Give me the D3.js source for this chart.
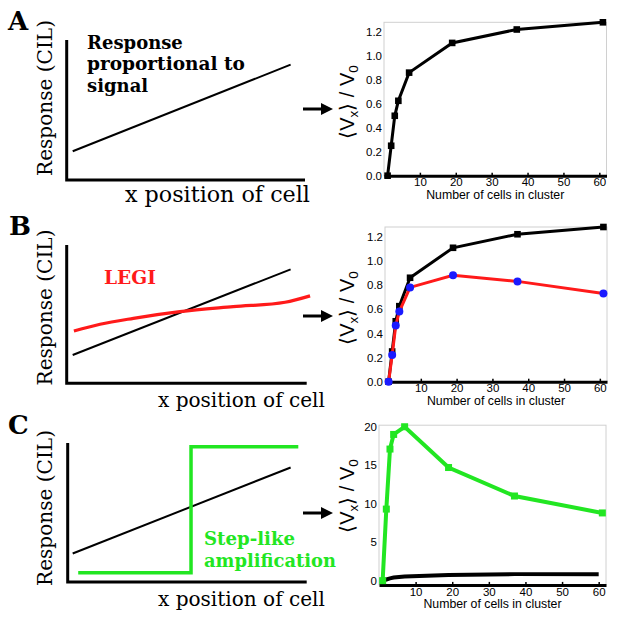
<!DOCTYPE html>
<html><head><meta charset="utf-8">
<script src="https://cdn.jsdelivr.net/npm/d3@7"></script>
<style>body{margin:0;background:#fff}svg{display:block}</style>
</head><body>
<svg id="c" width="617" height="624"></svg>
<script>
// ---------------- data ----------------
const cells = [1, 2, 3, 4, 7, 19, 37, 61];
const propResp = [0, 0.25, 0.5, 0.625, 0.86, 1.108, 1.22, 1.28];
const legiResp = [0, 0.22, 0.465, 0.58, 0.78, 0.88, 0.83, 0.73];
const stepResp = [0, 9.3, 17.1, 19.0, 20.0, 14.7, 11.0, 8.8];
const cellsC = [1, 2, 3, 4, 7, 19, 37, 60];
const propRespC = [0, 0.15, 0.3, 0.4, 0.55, 0.75, 0.85, 0.85];
const xTicks = [10, 20, 30, 40, 50, 60];
const yTicksAB = [0, 0.2, 0.4, 0.6, 0.8, 1, 1.2];
const yTicksC = [0, 5, 10, 15, 20];
const panelLetters = ["A", "B", "C"];
// schematic curves (normalised position, normalised response)
const schemLineX = [0.025, 0.933];
const schemLineY = [0.205, 0.824];
const legiX = [0.03, 0.139, 0.278, 0.472, 0.694, 0.91, 1.014];
const legiY = [0.378, 0.427, 0.470, 0.518, 0.554, 0.586, 0.632];
const stepX = [0.048, 0.518, 0.518, 0.965];
const stepY = [0.067, 0.067, 0.973, 0.973];

const svg = d3.select("#c");
const SERIF = "DejaVu Serif";
const SANS = "Liberation Sans, Arial, sans-serif";
const GREEN = "#22e622";

function fit(sel, w) {
  const l = sel.node().getComputedTextLength();
  const fs = parseFloat(sel.attr("font-size"));
  sel.attr("font-size", (fs * w / l).toFixed(2));
  return sel;
}

// ---------------- schematic panels ----------------
const schem = [
  {letterX: 8, letterY: 30, x0: 66.7, x1: 305, yb: 180, yt: 40, ylabY: 98, xlabX: 125, xlabW: 185, xlabY: 202, arrowY: 109},
  {letterX: 9, letterY: 235, x0: 66.7, x1: 306.7, yb: 383.3, yt: 245, ylabY: 307.5, xlabX: 158, xlabW: 167, xlabY: 407, arrowY: 316},
  {letterX: 8, letterY: 434, x0: 67.7, x1: 306.7, yb: 582, yt: 443, ylabY: 508, xlabX: 158, xlabW: 167, xlabY: 606, arrowY: 513}
];

schem.forEach((p, i) => {
  const g = svg.append("g");
  const sx = d3.scaleLinear().domain([0, 1]).range([66.7, 306.7]);
  const sy = d3.scaleLinear().domain([0, 1]).range([p.yb, p.yt]);
  g.append("path").attr("d", `M${p.x0},${p.yt}V${p.yb}H${p.x1}`)
    .attr("fill", "none").attr("stroke", "#000").attr("stroke-width", 3);
  g.append("text").attr("x", p.letterX).attr("y", p.letterY).text(panelLetters[i])
    .attr("font-family", SERIF).attr("font-weight", "bold").attr("font-size", 26);
  const yl = g.append("text").attr("transform", `translate(52,${p.ylabY}) rotate(-90)`)
    .attr("text-anchor", "middle").attr("font-family", SERIF).attr("font-size", 20)
    .text("Response (CIL)");
  fit(yl, 156);
  const xl = g.append("text").attr("x", p.xlabX).attr("y", p.xlabY)
    .attr("font-family", SERIF).attr("font-size", 20).text("x position of cell");
  fit(xl, p.xlabW);
  g.append("line").attr("x1", 303).attr("x2", 323).attr("y1", p.arrowY).attr("y2", p.arrowY)
    .attr("stroke", "#000").attr("stroke-width", 3);
  g.append("path").attr("d", `M321,${p.arrowY - 6}L333,${p.arrowY}L321,${p.arrowY + 6}Z`).attr("fill", "#000");
  const line = d3.line().x(d => sx(d[0])).y(d => sy(d[1]));
  g.append("path").attr("d", line(d3.zip(schemLineX, schemLineY)))
    .attr("stroke", "#000").attr("stroke-width", 2).attr("fill", "none");
  if (i === 1) {
    g.append("path").attr("d", d3.line().curve(d3.curveMonotoneX).x(d => sx(d[0])).y(d => sy(d[1]))(d3.zip(legiX, legiY)))
      .attr("stroke", "#ff1a1a").attr("stroke-width", 3.2).attr("fill", "none");
    const t = g.append("text").attr("x", 104).attr("y", 284).attr("fill", "#ff1a1a")
      .attr("font-family", SERIF).attr("font-weight", "bold").attr("font-size", 16).text("LEGI");
    fit(t, 52);
  }
  if (i === 2) {
    g.append("path").attr("d", line(d3.zip(stepX, stepY)))
      .attr("stroke", GREEN).attr("stroke-width", 3.5).attr("fill", "none");
    const t1 = g.append("text").attr("x", 204).attr("y", 545).attr("fill", GREEN)
      .attr("font-family", SERIF).attr("font-weight", "bold").attr("font-size", 18).text("Step-like");
    fit(t1, 91);
    const t2 = g.append("text").attr("x", 204).attr("y", 567).attr("fill", GREEN)
      .attr("font-family", SERIF).attr("font-weight", "bold").attr("font-size", 18).text("amplification");
    fit(t2, 132);
  }
  if (i === 0) {
    const lines = ["Response", "proportional to", "signal"];
    const widths = [100, 158, 61];
    lines.forEach((s, k) => {
      const t = g.append("text").attr("x", 87).attr("y", 48.5 + k * 21.7)
        .attr("font-family", SERIF).attr("font-weight", "bold").attr("font-size", 18).text(s);
      if (k === 1) fit(t, widths[k]);
    });
  }
});

// ---------------- data charts ----------------
const charts = [
  {xr: [384, 606.5], yd: [0, 1.28], yr: [175.7, 22.3], ticks: yTicksAB, labY: 102},
  {xr: [385, 607], yd: [0, 1.28], yr: [381.7, 227], ticks: yTicksAB, labY: 308},
  {xr: [379, 606], yd: [-0.55, 20.2], yr: [584.9, 425.2], ticks: yTicksC, labY: 496}
];

charts.forEach((c, i) => {
  const g = svg.append("g");
  const x = d3.scaleLinear().domain([0, 62]).range(c.xr);
  const y = d3.scaleLinear().domain(c.yd).range(c.yr);
  const [x0, x1] = c.xr, [yb, yt] = c.yr;
  g.append("rect").attr("x", x0).attr("y", yt).attr("width", x1 - x0).attr("height", yb - yt)
    .attr("fill", "none").attr("stroke", "#d0d0d0").attr("stroke-width", 1);
  const ya = g.append("g").attr("transform", `translate(${x0},0)`)
    .call(d3.axisLeft(y).tickValues(c.ticks).tickSize(0).tickPadding(2));
  ya.select(".domain").remove();
  ya.selectAll("text").attr("font-family", SANS).attr("font-size", 11.5).attr("fill", "#000");
  const xa = g.append("g").attr("transform", `translate(0,${yb})`)
    .call(d3.axisBottom(x).tickValues(xTicks).tickSizeInner(-3).tickSizeOuter(0).tickPadding(2.5));
  xa.select(".domain").attr("stroke", "#000").attr("stroke-width", 3);
  xa.selectAll(".tick line").attr("stroke", "#000").attr("stroke-width", 1.5);
  xa.selectAll("text").attr("font-family", SANS).attr("font-size", 11.5).attr("fill", "#000");
  g.append("text").attr("x", (x0 + x1) / 2).attr("y", yb + 23.5).attr("text-anchor", "middle")
    .attr("font-family", SANS).attr("font-size", 12.3).text("Number of cells in cluster");
  const yl = g.append("text").attr("transform", `translate(354,${c.labY}) rotate(-90)`)
    .attr("text-anchor", "middle").attr("font-family", SANS).attr("font-size", 20);
  yl.append("tspan").text("\u27E8V");
  yl.append("tspan").attr("font-size", 13.5).attr("dy", 4).text("x");
  yl.append("tspan").attr("dy", -4).text("\u27E9 / V");
  yl.append("tspan").attr("font-size", 13.5).attr("dy", 4).text("0");

  const line = d3.line().x(d => x(d[0])).y(d => y(d[1]));
  if (i < 2) {
    g.append("path").attr("d", line(d3.zip(cells, propResp)))
      .attr("stroke", "#000").attr("stroke-width", 3).attr("fill", "none");
    g.selectAll(".sq").data(d3.zip(cells, propResp)).join("rect")
      .attr("x", d => x(d[0]) - 3.3).attr("y", d => y(d[1]) - 3.3)
      .attr("width", 6.6).attr("height", 6.6).attr("fill", "#000");
  }
  if (i === 1) {
    g.append("path").attr("d", line(d3.zip(cells, legiResp)))
      .attr("stroke", "#ff1a1a").attr("stroke-width", 3).attr("fill", "none");
    g.selectAll(".dot").data(d3.zip(cells, legiResp)).join("circle")
      .attr("cx", d => x(d[0])).attr("cy", d => y(d[1])).attr("r", 4).attr("fill", "#1a1aff");
  }
  if (i === 2) {
    g.append("path").attr("d", line(d3.zip(cellsC, propRespC)))
      .attr("stroke", "#000").attr("stroke-width", 4).attr("fill", "none");
    g.append("path").attr("d", line(d3.zip(cells, stepResp)))
      .attr("stroke", GREEN).attr("stroke-width", 4).attr("fill", "none");
    g.selectAll(".gsq").data(d3.zip(cells, stepResp)).join("rect")
      .attr("x", d => x(d[0]) - 3.5).attr("y", d => y(d[1]) - 3.5)
      .attr("width", 7).attr("height", 7).attr("fill", GREEN);
  }
});
</script>
</body></html>
